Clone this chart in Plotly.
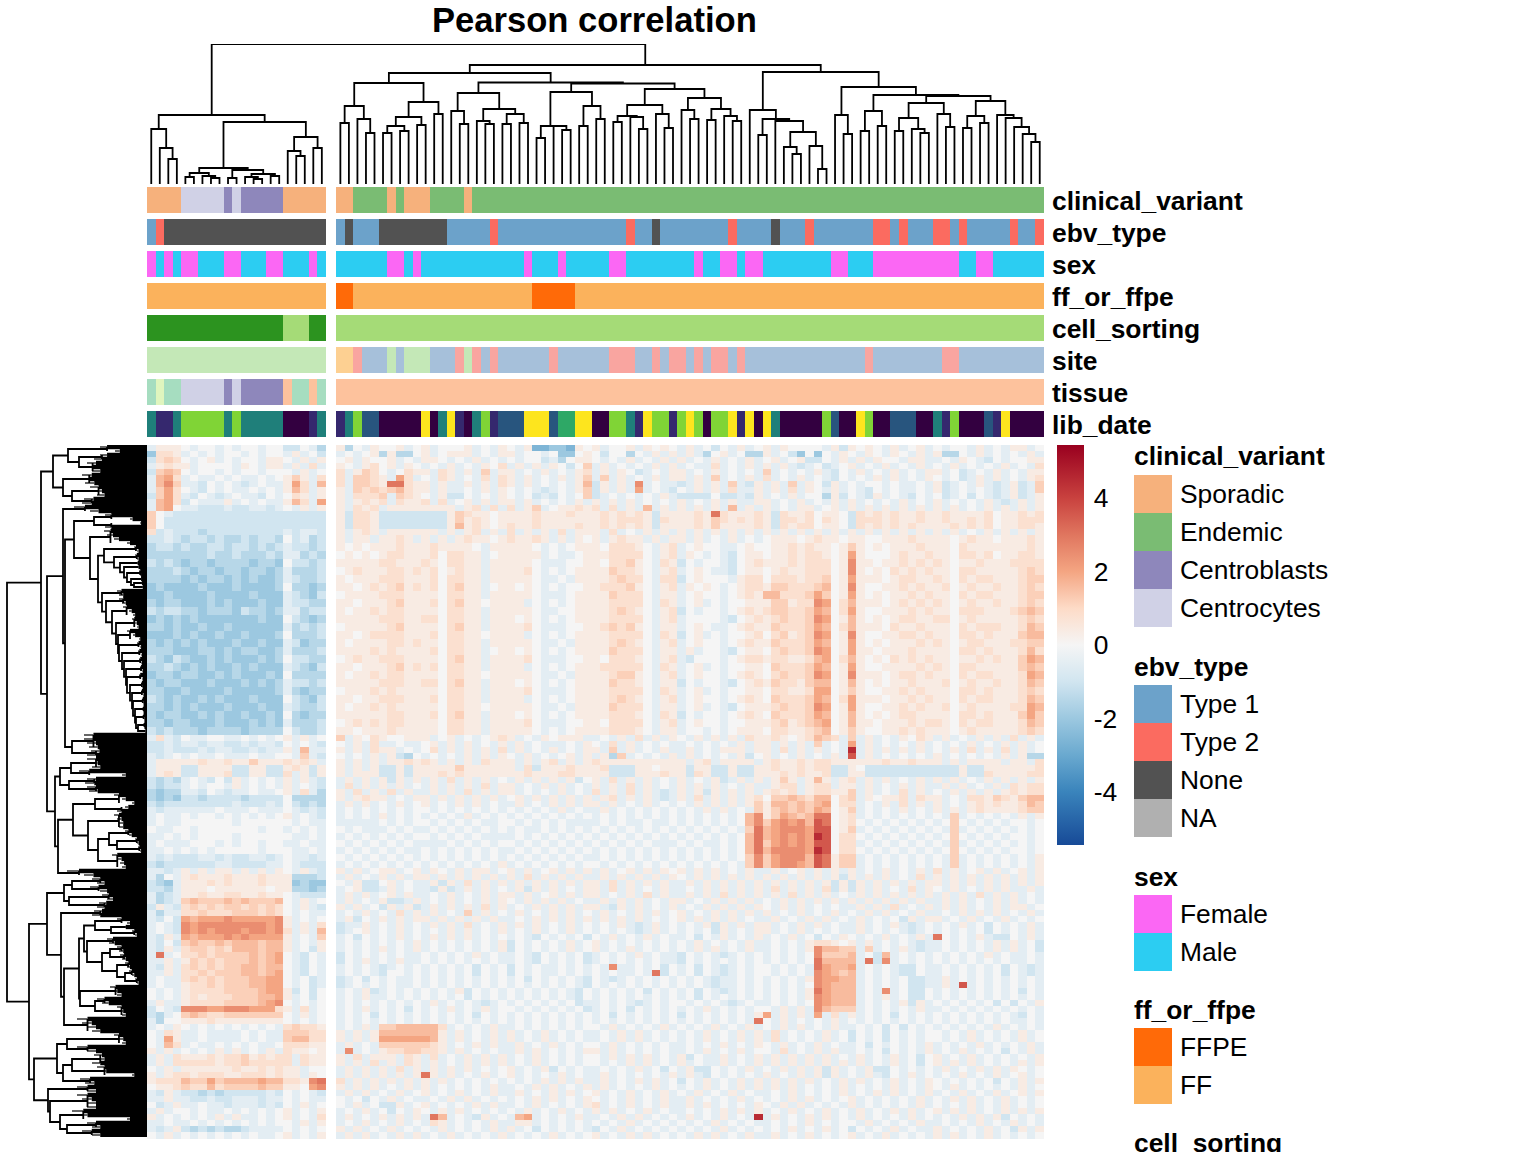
import numpy as np
import plotly.graph_objects as go

W, H = 1536, 1152
FONT = "Liberation Sans"

# ---------------- annotation tracks: (category, run of samples) ----------------
clinical_left = [("Sporadic",4),("Centrocytes",5),("Centroblasts",1),("Centrocytes",1),("Centroblasts",5),("Sporadic",5)]
clinical_right = [("Sporadic",2),("Endemic",4),("Sporadic",1),("Endemic",1),("Sporadic",3),("Endemic",4),("Sporadic",1),("Endemic",67)]
ebv_left = [("Type 1",1),("Type 2",1),("None",19)]
ebv_right = [("Type 1",1),("None",1),("Type 1",3),("None",8),("Type 1",5),("Type 2",1),("Type 1",15),("Type 2",1),("Type 1",2),("None",1),
             ("Type 1",8),("Type 2",1),("Type 1",4),("None",1),("Type 1",3),("Type 2",1),("Type 1",7),("Type 2",2),("Type 1",1),("Type 2",1),
             ("Type 1",3),("Type 2",2),("Type 1",1),("Type 2",1),("Type 1",5),("Type 2",1),("Type 1",2),("Type 2",1)]
sex_left = [("Female",1),("Male",1),("Female",1),("Male",1),("Female",2),("Male",3),("Female",2),("Male",3),("Female",2),("Male",3),("Female",1),("Male",1)]
sex_right = [("Male",6),("Female",2),("Male",1),("Female",1),("Male",12),("Female",1),("Male",3),("Female",1),("Male",5),("Female",2),("Male",8),
             ("Female",1),("Male",2),("Female",2),("Male",1),("Female",2),("Male",8),("Female",2),("Male",3),("Female",10),("Male",2),("Female",2),("Male",6)]
ff_left = [("FF",21)]
ff_right = [("FFPE",2),("FF",21),("FFPE",5),("FF",55)]
sorting_left = [("sorted",16),("unsorted",3),("sorted",2)]
sorting_right = [("unsorted",83)]
site_left = [("site_green",21)]
site_right = [("site_orange",2),("site_red",1),("site_blue",3),("site_green",1),("site_blue",1),("site_green",3),("site_blue",3),("site_red",1),
              ("site_green",1),("site_red",1),("site_blue",1),("site_red",1),("site_blue",6),("site_red",1),("site_blue",6),("site_red",3),
              ("site_blue",2),("site_red",1),("site_blue",1),("site_red",2),("site_blue",1),("site_red",1),("site_blue",1),("site_red",2),
              ("site_blue",1),("site_red",1),("site_blue",14),("site_red",1),("site_blue",8),("site_red",2),("site_blue",10)]
tissue_left = [("tissue_mint",1),("tissue_pale",1),("tissue_mint",2),("Centrocytes",5),("Centroblasts",1),("Centrocytes",1),("Centroblasts",5),
               ("tissue_peach",1),("tissue_mint",2),("tissue_peach",1),("tissue_mint",1)]
tissue_right = [("tissue_peach",83)]
lib_left = [("teal",1),("purple",2),("teal",1),("lime",5),("teal",1),("lime",1),("teal",5),("dark",3),("purple",1),("teal",1)]
lib_right = [("purple",1),("teal",1),("lime",1),("navy",2),("dark",5),("yellow",1),("dark",1),("teal",1),("yellow",1),("purple",1),("dark",1),
             ("teal",1),("lime",1),("purple",1),("navy",3),("yellow",3),("navy",1),("green",2),("yellow",2),("dark",2),("lime",2),("teal",1),
             ("purple",1),("yellow",1),("lime",2),("purple",1),("lime",1),("yellow",1),("lime",1),("dark",1),("lime",2),("yellow",1),("purple",1),
             ("yellow",1),("dark",1),("yellow",1),("teal",1),("dark",5),("lime",1),("navy",1),("dark",2),("yellow",1),("lime",1),("dark",2),
             ("navy",3),("dark",2),("teal",1),("purple",1),("lime",1),("dark",3),("navy",1),("purple",1),("yellow",1),("dark",4)]
track_names = ["clinical_variant","ebv_type","sex","ff_or_ffpe","cell_sorting","site","tissue","lib_date"]
tracks_left = [clinical_left,ebv_left,sex_left,ff_left,sorting_left,site_left,tissue_left,lib_left]
tracks_right = [clinical_right,ebv_right,sex_right,ff_right,sorting_right,site_right,tissue_right,lib_right]
category_colors = {
 "Sporadic":"#F6B17C","Endemic":"#7ABC73","Centroblasts":"#8E87BB","Centrocytes":"#D0D1E6",
 "Type 1":"#6CA2CA","Type 2":"#FB6B60","None":"#525252","NA":"#B0B0B0",
 "Female":"#FB67F4","Male":"#2CCDF2","FFPE":"#FF6A08","FF":"#FBB25C",
 "sorted":"#2C931F","unsorted":"#A5DB77",
 "site_green":"#C4E8B7","site_orange":"#FDD092","site_red":"#F9A5A0","site_blue":"#A6C0DA",
 "tissue_mint":"#A6DDC0","tissue_pale":"#E0F5BE","tissue_peach":"#FDC29D",
 "dark":"#330040","purple":"#35286E","navy":"#28557E","teal":"#1F7F7A","green":"#2EA866","lime":"#80D436","yellow":"#FDE51E"}

# ---------------- legends ----------------
legend_clinical = ["Sporadic","Endemic","Centroblasts","Centrocytes"]
legend_ebv = ["Type 1","Type 2","None","NA"]
legend_sex = ["Female","Male"]
legend_ff = ["FFPE","FF"]

# ---------------- heat values, one coded letter per sample ----------------
# a..f = -0.5 -1 -1.5 -2 -2.6 -3.5 ; 0..9 = 0 .4 .8 1.2 1.6 2 2.5 3 3.6 4.5
level_codes = {"a":-0.5,"b":-1.0,"c":-1.5,"d":-2.0,"e":-2.6,"f":-3.5,"0":0,"1":.4,"2":.8,"3":1.2,"4":1.6,"5":2.0,"6":2.5,"7":3.0,"8":3.6,"9":4.5}
rows_top = [
"a111 0a00a0a00a00 bb0ac 1c0a1001a0 1a0001a0a1 0a1eedde10 1a001a1010 a1a0b0a1a0 1a10000a1b 1010a1a01a 0a00a1a0a1 1a0",
"d221 a0a0a00a0a00 a1a0b a0a01c1cc0 1a0111a0a1 1a00a0dd01 0b00c0a1a1 a1ac01a0cc 1a0bd0d0a1 0a10a10a1a 1cc0a1a0a0 a1a",
"b232 0a01a0a00a11 0a1a1 01a1001a0a 110a0a1a0a 0a00bac011 0a0a1a0a1a 1a0a1a0a1a 01a01bb0a1 a1a100a11a a0a10ab0a0 011",
"a121 1a0000a10a11 a1a2a 10a1201a10 a0a1a0a102 a1a1a10b03 a1a0a0a1a1 a0aa2a0a1a 1a1aba0ba0 1a0a1a0a1a 0a1a0a0a1a 0a2",
"b343 0a00a0a00a00 0a1a0 2a1320a021 1a21a1a3a1 1a0a1a0a12 a1a10ba0a1 1a0a1a0a0a 3a0a0a1ab0 a1a0a1a0a1 1a0ba0a1a0 a11",
"a452 a0aa0a0aa0a0 131a2 2a3321a52a 0a21a0a2a2 1a1a0a1a13 a3a1a0a1a1 1a1a3a0a1a 2a0a1a0ab0 a0a1a1a0a1 0a0ba1a1a0 a12",
"a463 aab0a0aba0aa 152a4 2a33217721 1a1aa1a1a2 1a1a0a0a14 b1a1a6a0aa ba1a1a3ab1 a1a3a10b1a 0a00a0aa0a 1ba0a1aba1 ba3",
"a352 0ab0a0aa0a0a 142a1 1a32323421 1a1aa0a1a1 0a0aba0a13 b1a1a5a0ab 0a1a1a2aa1 a1a2a10a1a 0ab0a0aa0a 1ba0a0aba1 ba3",
"b352 ab0aba0aab0a 021a1 1a2223a321 0a1bb0a0a1 0a0bab0a03 ba0a0a0a1a bbbb0bbab1 a0a1a00c1b 0ab1a0ab0a 0ba0b0aba1 ba1",
"a452 b0aaa1a0a0aa 142a5 1a1212a211 2a2a01a1a1 1a1a0a0a1a 1a1a1a0a0a 1a0a1a1aa1 1a0a1a0a1a 1a0a0a1a0a 1a0a0a1aba 1a1",
"a450 aabbbabbaaba 0a1a1 1a212a1111 1111a12a2a 2a13a01121 2a2a1a4a1a 1a1a1a4a1a 1a0a11a01a 1a1a1a1a1a 1a1a0a1a1a 1a1",
"30ab bbbbbbbbbbbb bbbbb 1b221bbbbb bbb1321101 1112111211 1212121b11 1121721112 1b21120110 b212121121 1211112011 212",
"30bb bbbbbbbbbbbb bbbbb 1b221bbbbb bbb1312101 1112111111 1212221b21 1121321212 1b22120210 b222121121 1211212011 222",
"30bb bbbbbbbbbbbb bbbbb 1b221bbbbb bbb1412101 2112111121 1212121b11 1121311112 1b21220110 b212121211 1121212011 221",
"2bab bbcbbbbbbbbb abaab 1a121a1111 11a1a12a1a 2a1a1a2a11 1a2a0a1a1a 1a1a1a1a1a 1a1a1a1a1a 1a1a1a1a1a 1a1a0a1a1a 1a1",
]
rows_blue = [
"bbab cbbcbccbcbbc 0bacb 1a11a1121a 1a1a121101 21121a1a10 1a1211a1a1 1a1a0a1a0a 0111012110 1100111211 1101211011 121",
"cbbc bccbbcbbcbcb abbcb 1010111211 1211110a11 1110a0a011 1022210a12 a0100aa010 0112121101 3101011121 1102111111 121",
"cccc cccbccbcccbc aacbc 0101012211 1202211a01 1111a0aa01 1122220a12 a10a0ab011 0112122101 5100012112 1102212011 221",
"bcbc dccdccccdccd 0bbcb 1111122111 2102211a11 1110aaa001 1022310a21 b0a00ab012 1112122201 6110112121 2101121112 222",
"cccb cdccdccdccdc acccb 0121112212 1201211a11 1120a0a011 1132210a12 a010aab011 0121122201 6101021212 1102211111 232",
"cccc dcdccdcdcddc abccb 1011122211 1202211a11 1110aa0a11 1123220a22 b01000a122 0222122301 5111012211 2102122111 233",
"dcdd ddcdddcddddc 0ccdc 1101212312 1202311a01 1010a0a001 1222310a12 a1010a0122 1332223401 6100112121 1201211211 232",
"ddcd dddcddddcddd abcdb 0111122211 1102211a11 1110aaa011 1132220a11 a0100a0121 4422235301 5101011212 1102122111 233",
"cdcc dddcdcdddcdd abbcc 1101112311 1202311011 11a0a0a011 1122220a21 a01a0a0011 1331226502 4111012121 2101211211 232",
"bcbb ccdcccdbccdc aacbb 1011212211 1102211a11 1110aa0011 1123210a12 b0a00a0121 2332235402 5100111212 1102221112 343",
"dcdc dcdddddddcdd 0bcdc 1111122211 2202211a11 1010a0a011 1122220a12 a0000ab012 1232236501 4101012211 2201211111 232",
"ccdc ddcddcdddddd acbcb 0111112311 1102311a11 1120aaa001 1232310a11 a010aa0121 1322235402 4111021121 1102122211 243",
"dddc dcddcddcdddc 0cccb 1101222211 1202211011 11a0a0a011 1122220a21 b01a0a0012 0231236501 6100112212 1102212111 344",
"cdcd cdcdddcddcdd abdcc 1011112212 1102211a11 1110aa0a11 1123210a12 a0100a0121 1322235401 5101011121 2101221112 233",
"cccd ddccdcdccddc acccb 1111212111 1202211a01 1010a0a011 1132220a11 a1a00ab011 0232236501 5110111211 1102212111 242",
"bcdb cddcdcdddcdc 0bbcc 0121122211 1102311a11 1120aaa001 1022210a12 ab000a0122 1221124502 4101021212 1101121211 354",
"ccbc dcdcddcdcddd abcdb 1101112312 1202211a11 11a0a0a011 1222220a21 a01a0a0011 0322235401 5100111121 2102211111 343",
"dccd ccddcdcdddcd 0cccc 1011212211 1102211011 1110aa0a11 1123310a12 a0100a0121 0232236501 6111012212 1102122111 254",
"cdcc dddcdddcdcdc abbcb 1111122211 2202311a11 1010a0a011 1132210a11 b0a00ab012 1322134401 4101011211 1201211211 243",
"ccdd cddddcdddddc acdcc 0111212111 1102211a11 1120aaa011 1122220a21 a01a0a0011 0221125501 3100112121 1102212111 232",
"bcdc ddcdcdddcddd 0bcdb 1101122211 1202211a11 11a0a0a011 1123210a12 a0100a0121 0322235402 5111011212 1102122111 243",
"ccdc dcdddcdddcdd abccb 1011212111 1102211011 1110aa0a11 1132220a11 a01a0ab011 1232236501 5100112121 1201211112 254",
"cdcc ddcdcddcddcd 0cdcc 1111112211 1202311a11 1010a0a011 1122210a21 b0a00a0121 0322235401 4101012211 1102212111 353",
"ccdc cdddcdddcdcd acccb 0121212211 1102211a11 1120aaa001 1022220a12 a0100a0011 1231234501 4110111212 2102122111 243",
"bcbc ccdccccdcccc 0bccb 1101112111 1102211a11 1110a0a011 1122210a11 a00a0a0111 0221123401 3100112121 1101211111 232",
]
rows_mid = [
"a2ab 0aa00aa0a0a0 1a1a0 3a10210011 1a01a0a012 1a0a10111a a0a1a2a1a1 0a1a1a1a21 121012432a 3a1a0a1021 a1a0a1a1a2 a1a",
"bbab aabaabbabaab 0a0ab 0a1a2aa0aa 01a1a1a0a1 a1a0aaa0a1 0a2a1a0a0a a0a0a0a1a1 1a1a1a3a0a 5a1a0a0a1a 0a0a1a0a1a 1a0",
"bbab bbabaabbabaa 1a4aa 1a1a211a0a 02a1a1a1a2 a1a0a1a0a1 1a3a1a0a1a a1a0a111a1 1a2a1a1a0a 9a1a1a1a1a 0a1a2a1a2a 1a0",
"aba0 a0aa0aaa0aa0 0a3ab 0a0a1a1bc0 a0a0a1a1a1 0a1a0a01a1 a1c3a0a0a1 a1a0a0a1b0 1a0a1a0a1a 8a1a0a0a0a 1a0a0a0a1a 1cc",
"a111 112112113111 2121a 1a1a1a1121 21a1a1a211 1a1a12a1a1 2111111111 1a12a1111a 1211212211 1111211211 1a1a1111a1 1a2",
"a111 bb1111bb11bb 121b1 1a1a1bb1b1 1111311111 1a2b111211 12bbb11011 1b11bb1bb1 12112122bb 10bbbbbbbb bbb1bb1111 112",
"a121 bb1112bb11bb 2a1b1 1a111bb1b1 1121211111 1121112211 11bbb11121 1b21bb1bb1 11212112bb 11bbbbbbbb bbb1bb2111 122",
"bcbc a0ab0b1a0a0a 1a1ab a1a1a1b1a1 a1a2a1a1a0 a1a1a1a1b0 1a2a1a1a0a 1a0a1ba1a1 a131a141a1 2a1a1a0a1a 1a1a0a1a1a 1a1",
"bcbb a0a00a1a0a0a 1a0ab a2a1a1a1a0 a1a1a1a2a1 1a0a1a1a0a 1a1a2a1a0a 1a1a1a0a1a a122a122a1 1a1a0a1a1a a1a1a0a1a2 122",
"cdcc aab0abaa0aa0 1a2ac 1a2a1a2a1a a1a1a2a1a1 1a0a0a1a0a 2a1a2a1aba 1a1b1a1a1a 1212a12211 3a1a0a2a1a 0a1a1a1a12 122",
"cdcd bbcbbbbcbbbb 0cccc 1a1211a0a1 1a1a1a1a1a 01a1a1a1a1 a12a1a1aba 1a2a1a1a12 0334324402 3a10112a21 1a0a221321 344",
"bcbb bbbbbbabbbab 0bcbc a1a1a0a1a0 1a0a1a1a0a a1a0a1a1a1 1a1a0a1a0a 0a1a1a1a13 1443434502 2a0a1a2a1a 1a0a121211 243",
"abaa aaaa0aaa0aaa 0abab a0a0a0a0a0 0a0a0a0a0a 0a0a0a1a0a a1a0a0a0a0 a0a1a1a0a3 1343435401 3a0a0a1a0a 1a1a121111 233",
"a0aa 0a00a0a0a0a0 1a0ab a0a0a1a0a0 a0a0a1a0a0 a0a0a0a0a0 a0a0a0a0a0 a0a0a0a046 1354347701 2a0a0a0a0a 0a3a0a0a0a 1a1",
]
rows_block = [
"a0aa 000000a00000 0a0aa aaaaa0a0a0 0a0a0a0aa0 0a0a0a0aaa a0a0aa0aa0 a0a0a0a046 3565648701 20a0a0a0a0 a030a0a0a0 0a0",
"0aa0 0a0000000a00 a0a0a 0a0aaa0a0a a0a0a0a0a0 a0aa0a0a0a 0a0a0a0a0a 0a0a0a0a37 4566658801 3a0a0a0a0a 0a3a0a0a0a 0a0",
"aa0a 0a0000a00000 0aa0a a0a0a0a0a0 0a0a0a0aaa a0a0a0a0a0 a0a0a0a0a0 a0a0a0a047 4565659802 20a0a0a0a0 a030a0a0a0 0a0",
"a0aa a000a0a00a00 aa0aa 0a0a0a0a0a aaa0a0a0a0 0a0a0a0a0a 0a0a0a0aaa 0a0aa0a047 3565658802 2a0a0a0a0a 0a3a0a0a0a 0a0",
"aa0a 0a0a00000a00 0aa0a a0a0a0a0aa 0a0a0a0a0a a0a0a0a0a0 a0a0a0a0a0 a0a0a0a047 4666659802 20a0a0a0a0 a030a0a0a0 0a0",
"abab bbaababbaaba 0aaba 0a0a0a0a0a 0a0a0a0a0a 0a0a0a0a0a a0a0a0a0a0 a0a0a0a036 3566648713 3a0a0a0a0a 0a3a0a0a0a 0a1",
"bcbb bbbbaabbbbaa 0abbb a0a0a0a0a0 a0a0a0a0a1 a0a0a0a0a0 0a0a0a0a0a 0a0a0a0a36 3566548713 3a0a0a0a0a 0a3a0a0a0a 0a1",
]
rows_low = [
"aaba 1a1a11a1a1a1 0a1ab 1a1a011a01 a10a1a11a0 1a1a01a1a1 a1a01a1a10 1a1a1a0a1a a1a01a1a1a 1a0a1a0a1a 2a1a01a1a0 1a1",
"ac0a 121112111211 1cccb a1a0a1a1a1 1a1a1a1a1a 1a2a1a1a1a a1a1a1a1a1 0a1a1a1a1a 1a1a1a1a1b 1a1a1a0a2a 1a1a1a1a1a 1a1",
"bcda 111212111211 1dcdd 0a1bb01a0a a1b1a2a1a1 a1a1a1a1a1 1a2a1a1a1a a1a1a1a1a1 a1a1a1a1b1 b1a1a1a1a1 1a1a1a1a1a 1a1",
"bbca 111011111101 1ccdc a01bba1a0a ab1ba1a1a0 a1b1a1a0a1 1a2a1a0a1a a0a1a1a1a1 a2a1a1a2b1 b1a1a0a2a1 0a1a0a1a1a a1a",
"acba 112112211211 0abbb a1a1a01a1a a0a1a0a1a1 1a1a01a1a1 1a0a1a2a1a a1a1a2a1a1 a1a2a1a1a0 a1a1a1a1a1 a1a1a2a1a1 a0a",
"acba 343334343334 0a1a0 a1a0a1bba1 a0a1a0a1a1 0a1a1a1a0a a1a1a1a0a1 1a0a1a1a1a 0a1a1a1a1a 1a1a1a1a1a a1a1a0a1a1 a0a",
"b1ab 232323323232 0a1ab 1a1a0b1a1b a1a1a1a2a1 a0a1a1a1a1 1ab1a1a0a1 a0a1a1a1a1 0a1a1a0a0a a1a1a2a0a1 a1a1a0a1a1 1a0",
"acaa 223222333232 0a0aa a0a1a0a2a1 a1a0a3a1a0 a1a0a1a1a0 a1a0a1a1a0 1a0a1a1a1a 1a0a1a0a1a 0a1a1a0a1a a0a1a1a1a0 a1a",
"ab0b 545556555556 1a0a0 a1b0a1a1a1 1a1a1a1a1a a0a1a1a1a1 a1a1a1a0a0 1a1a1a1a0a a1a0a1a1a0 a1a0a0b1a1 1a0a1a0a1a 0a0",
"a0ab 656666666656 1a1a2 baa1a0a1a0 a1a1a2a0a1 a1a1a0a1a0 a0a1aba1a0 a0a1b1a1a1 1a0a1a1a0a a1a0a1aba0 a0a1a0b0a0 a1a",
"a0ab 656566656656 2a1a4 ba01a0a1a0 a0a1a1a0a1 a0a1a0a1a0 a0a0aba1a0 a0a0b1a0a1 1a0a1a0a0a a1a0a0aba0 a0a0a0b0a0 a1a",
"ab1a 545556565555 1a0a3 a0b0a0a1a0 a1a1a1a0a0 a0ab0a0a0b 0a1a0a1a0a a0b0a1a0a1 a0a1a0b0a1 0a0a1a0a1a 70a0a1abb0 a1a",
"ab0b 343343444344 1a0a1 a0a0a0a0a1 a0a0a0a0a1 b0a0a0a1a0 1a0a0a0a0a 0a1a0a0a1a a0a0a12210 1a1a0a0aba a0a0a0a1a1 a0b",
"ab1a 233232444344 1a0b1 a0a0a1a0a1 a0a0a0a0a1 b0a0a0a1a0 1a0a1a0a0a 0a1a1a0a1a a0a0a16443 3a3a0a1aba a0a0a0a1a1 a0b",
"a7a0 223233334345 0ab0a b0a0a0a0aa 0a0a0a1a0a a0ab0a0a0b a0a0a1a0aa b0a0aba0a0 a0a0a06333 4a0b4a0a0a 0a0a0a1a0a a0a",
"aa1a 132323334345 0ab0a b0a1a0a1aa 0a0a0a0a0a a0ab0a0a0b a0a0a0a0aa b0a0a0a0a0 a0a0a07444 4a7b6a0a0a 0a0a0a0a0a a0a",
"ab1a 232323344344 0ab0a a0a0aba0a0 a0a0a0b0a0 b0a0aa0a0a 0a6aa0a0b0 a0b0aba0a0 0a0a0a7544 5a0a0abb0a a0a0a0a0b0 aba",
"aa1a 223233344345 0ab0a a0a0ab00a0 a0a0a0b0a0 b0a0aa0a0a 0a0aa0a7b0 a0b0aba0a0 0a0a0a6543 4a0a0abb0a a0a0a0a0b0 aba",
"a0aa 232323334455 0a0ba ba0b0a0aa0 a0a0a0a0a0 a0b0a0a0ab 0aba0a0a0a 0a0abaa0a0 a0a0a16554 4a0a0a0bba a1a0a0a0a0 a0a",
"a0aa 122323334455 0a0ba ba0a0a0aa0 a0a0a0a0a0 a0a0a0a0ab 0a0a0a0a0a 0a0abaa0a0 a0a0a06544 4a0a0a0bba a1a8a0a0a0 a0a",
"0a0a 122223333455 1b0b0 a0a1ba0a0a 0a0a1b0a0a 0a0a0a0ab0 a0a0a0b0a0 a0b0aba0a0 a0a0a17544 4a0a6a0bb0 a0a0a0a0a0 b0a",
"0a0a 121222333445 1a0b0 a0a1aa0a0a 0a0a0b0a0a 0a0a0a0ab0 a0a0a0a0a0 a0b0a0a0a0 a0a0a16544 4a0a1a0bb0 a0a0a0a0a0 a0a",
"a1aa 122223333456 0a0a0 a0a0a0a0a0 a1a0a0aba0 a0a0a0a0ba a0a0aba0a0 0a0a0aba0a a0a0a06544 4a0a0a1b1a 0a0a0a0b0b 0a1",
"b0ab 666556665552 1a2a0 a0a1a0a0b0 a0a1a0a1a0 0a0a0a0a0b a0a0b0a0a0 a0a1a0a0a0 0a1a1a6433 3a0a0a0a1a a0a0a0a0a0 a0a",
"bca0 343223333333 0a1a0 a0a0b0a0a0 a0a0a0b0a0 a0a0a0a0a0 a0b0a0a0a0 b0a0a0a0a1 5a1a1a5a2a 1a0a0b0a0a 0a0a0a0a0a b0a",
"ac00 111211111111 0a0a0 a0a0a0a0a0 a0a0a0a0a0 a0a0a0a0a0 a0a0a0a0a0 a0a0a0a0a7 0a1a0a0a1a 0a0a0a0a0a 0a0a0a0a0a a0a",
"a0a1 0a0a0a0a0a0a 23221 a0a1a33444 442a0a0a1a a0a0a0a0a0 0a1a0a0a1a 0a0a1a0a1a 0a1a1a0a1a a0a0b0b0a0 a0a0a0a1a0 a0a",
"0a21 aa0aaaa0a0aa 33322 1a1a144444 441a1a0a1a 1a0a1a0a0a a0a1a1a0a0 a0a1a0a1a1 a2a0a0a1a0 b0a0b0a0a0 0a0a1a0a0a 1a0",
"0a51 aa0aaaa0a0aa 34422 1a1a155555 541a1a0a1a 1a0a1a0a0a a0a1a1a0a0 a0a1a0a1a1 a2a0a0a1a0 b0a0b0a0a0 0a0a1a0a0a 1a0",
"0a42 a0aa0a0a0aa0 22211 a1a0a33333 321a0a1a1a a1a0a1a0a0 0a1a0a0a0a a0a0a1a0a1 0a1a0a1a0a a0b0a0a0a1 a0a0a1a0a0 a1a",
"1a1a 0a0a1a1a0a1a 21101 a6a0a12233 221a1a0a0a a1a1a0a0a1 1a1a0a0a0a a0a1a0a1a0 0a2a0a1a1a a0a0b0a0a1 a0a1a0a0b0 a1a",
"a1a2 111212231212 2a211 1a2a111a21 a2a0a1a1a1 a0a1a0a0a0 0a1a1a1a0a 1b0aa1a0a1 a1a1a1a1a0 a1a0a1a0b0 1a0a1a0a0a 0a1",
"a1a2 222212232222 2a211 1a1a2a1a21 a1a0a1a1a1 a0a1a0a0a0 0a0a1a1a0a 1a0aa1a0a1 a1a1a1a1a1 a1a0a1a0b0 1a1a1a0a0a 1a1",
"0a1a 111111211212 11a00 a1a1a1a2a1 a1a1a1a0a0 1a0a1b0a0a a0a0a1a0b0 a1bb0a0a1a 0a1a1a1b1a 0a1bb0a0a0 a1a0a1a1a1 0a0",
"1a12 212221122212 11a10 a1a1a1a1a1 71a1a0a1a0 1a0a0a1a0a a1a0a0a0a1 a1ab0a0a0a 1a0a1a1b1a 0a1ab0a1a0 a0a1a0a1a0 1a0",
"1222 433534444544 22167 2a1a1a1a1a 1a1a0a0a0a 0a0a1a1a1a a1a0a1a1a0 b0a1a0a1a1 a1a1a1a0a1 a1a0a1a0a1 0a0a0a0b0a 1a1",
"0112 322423333433 11056 1a1a1a0a1a 1a0a0a0a1a a0a1a1a0a1 a1a0a0a1a0 a0a1a0a1a1 a1a1a0a0a1 a0a0a1a0a1 0a1a0a0a0a 1a0",
"ab1a bbcbcbbbbbab 0a0ab a1a1a0a1a0 1a0a1a0a1a a1a0a1a1a0 1a0a1a0a1a 0a1a0a1a0a a0a1a0a0a1 a0a1a1a0a1 a0a1a0a1a0 1a1",
"aa1a abbabbaaabaa 0a0aa 0a0b0a1a0a a0a1a1a0a0 a0a1a1a0a1 0a0a1a0a1a a1a0a0a1a0 a0a1a1a0a0 1a0a0a0a1a 0a1a1a0a1a 0a0",
"0ba1 aa0aabaaabab 0a1a0 0a1a0bb1a0 1a0a0a1a1a a0a1a0a0a1 2a0a1a0a1a a1a1a0a0a1 0a1a1a0a0a 1a0a0a0a1a 0a0a1a0a1a 0a0",
"a1a0 0a0aa0a0a0a0 1a0a1 a0a1a0b0a1 0a1a1a0a0a 0a1a0a1a0a 1a1a0a1a0a a0a0a1a1a1 a0a1a0a1a0 a1a0a1a1a0 1a1a1a0a1a 1a1",
"1a0a 0a0a1a1aa0a0 1a0a2 a1a0a1a1a1 a74a0ab1a0 a45a0a0a1a a0a1a1a0a0 a1a0a1a0a9 a1a0a1a1a0 a1a0a0a1a0 a0a1a1a1b0 a0a",
"aa0a a0a0a0a0a0a0 0a1a1 a0a1a0a1a0 a21a0a0a1a a11a0a0a0a 0a0a1a0a0a 0a0a1a0a0a a0a0a1a0a0 0a1a0a0a1a a0a0a1a0a1 a0a",
"aba1 bcbcbccbaaaa 0a0a0 1a1a0a1a0a 0a1a0a0a1a 1a0b0a0a0a b0a1a0a0a0 a0a0a1a0a0 a0a1a0a1a0 b0a0a1a0aa 1a0a0a1a0b 1a1",
"0a1a 0a0a0a0a0aa0 1a0a1 a1a1a0a1a1 a0a1a0a0a1 a0a0a1a0a0 1a0a1a1a0a 0a1a1a0a1a a1a0a1a0a0 1a0a1a0a0a 1a1a0a1a0a 0a0",
]
heat_rows = rows_top + rows_blue + rows_mid + rows_block + rows_low
row_heights = [6]*len(rows_top) + [8]*len(rows_blue) + [6]*len(rows_mid) + [7]*len(rows_block) + [6]*(len(rows_low)-1) + [7]

# ---------------- column dendrogram: (merge height, left, right), 0 = sample ----------------
_ = 0
tree_cells = (16,(11,(7,_,_),(8,_,(6,_,_))),(14,(6,_,_),(10,(7,_,(5,_,_)),(8,_,_))))
tree_left = (69,(55,_,(36,_,(25,_,_))),(62,tree_cells,(47,(33,_,(28,_,_)),(36,_,_))))
tree_a1 = (101,(78,(61,_,_),(65,_,(51,_,_))),(82,(67,(58,(51,_,_),(53,_,_)),(59,_,_)),(70,_,_)))
tree_a2a = (91,(73,_,(60,_,_)),(75,(63,_,(60,_,_)),(70,(60,_,_),(61,_,_))))
tree_a2b1 = (92,(58,(46,_,_),(58,_,(54,_,_))),(78,(58,_,_),(65,_,_)))
tree_a2b2 = (95,(79,(68,(62,_,_),(67,_,(55,_,_))),(70,_,(56,_,_))),(86,(74,_,(65,_,_)),(75,(64,_,_),(68,_,(63,_,_)))))
tree_a = (111,tree_a1,(101.5,tree_a2a,(100.5,tree_a2b1,tree_a2b2)))
tree_b1 = (74,_,(65,(49,_,_),(63,_,(52,(37,_,(30,_,_)),(38,_,(15,_,_))))))
tree_b2a = (81,(66,(53,_,_),(55,_,(51,_,_))),(70,_,(57,_,_)))
tree_b2b = (83,(68,(56,_,_),(61,_,_)),(69,_,(66,_,(57,_,(50,_,(42,_,_))))))
tree_b2 = (97,(69,_,(50,_,_)),(89,(73,(53,_,_),(58,_,_)),(88,tree_b2a,tree_b2b)))
tree_right = (119,tree_a,(112,tree_b1,tree_b2))
tree_top = (140,tree_left,tree_right)

# ---------------- row dendrogram: lists are bunches of leaves, one reach per 4 px ----------------
T1a = (79,[47,32],(68,[47,53],[60,64,55]))
T1b = (84,[65,68,62],(75,[57,53,50],[63,65]))
T1 = (94,T1a,T1b)
X1 = (53,[42,17],[7,42])
X2a = [43,40,33,20]
X2b1 = (43,[13,10],(33,[12,10],(27,[11],(23,[10],(20,[8,7],(16,[7],(13,[6],[5])))))))
X2b2 = (45,[30,28],(41,[28,25],(35,[24,18,14],(31,[15,12,10],(29,[20,14,8],(28,[10,7],(25,[9,6],(23,[8,6],(21,[7,5],(20,[8,5],
       (17,[6,5],(15,[6,4],(14,[5,4],(12,[4,4],(11,[4,3],(9,[3,3],[2]))))))))))))))))
X2 = (57,X2a,(49,X2b1,X2b2))
T2a = (84,[73,57],(82,(73,X1,X2),(75,[63,63,60,58],[56,60])))
TT = (87,(76,[60,58,55],[68,25]),(78,[60,62],[60,58]))
BB = (89,(74,(52,[33,25,15],[22,30]),(59,[33,30,28,28],(49,(38,[22,18],(30,[12,10],[9,7])),[35,30,27,25]))),[80,63])
T2 = (100,T2a,(92,TT,BB))
B1a = (83,(75,[55,50],[57,47]),(78,[45,40],[48,50]))
Z1 = (63,(52,[30,20],(36,[25],[15,12])),(60,[40,38],(45,(37,[30,28],[27,25]),(30,[22,20],(22,[18,15],[12,10])))))
Z2 = (67,[37,35,30],(52,[50,45],[30,28,25]))
B1 = (100,B1a,(86,[53,55],(83,(68,Z1,Z2),[70,65,60,55])))
B2a = (90,(80,[33,28,25],[70,60]),(84,(75,[53,50,55],[50,48,15]),[67,62]))
B2b = (99,[70,60],(97,[70,65,60,60],(87,[75,70,20],(80,[60,55],[65,55]))))
tree_rows = (140,(106,T1,T2),(118,B1,(113,B2a,B2b)))

# ---------------- build ----------------
def px_x(x): return x / W
def px_y(y): return 1 - y / H

def decode(r):
    s = r.replace(" ", "")
    s = (s + "0" * 104)[:104]
    return [level_codes[c] for c in s]
decoded = np.array([decode(r) for r in heat_rows], dtype=float)
y_edges = np.concatenate([[0], np.cumsum(row_heights)])
n_left, n_right = 21, 83
GAP = 10 / (179 / 21)

fig = go.Figure()
Z = 5.45
scale = [(-5.45,"#174A97"),(-4,"#3A84BC"),(-3,"#6AA9CF"),(-2,"#9CC8E0"),(-1,"#D1E5F0"),(0,"#F5F5F5"),(1,"#FDDBC7"),(2,"#F4A582"),(3,"#E0765F"),(4,"#C9423F"),(5.45,"#99001F")]
colorscale = [[(v + Z) / (2 * Z), c] for v, c in scale]

fig.add_trace(go.Heatmap(z=decoded[:, :n_left], x=np.arange(n_left + 1), y=y_edges, coloraxis="coloraxis", xaxis="x", yaxis="y", hoverinfo="skip"))
fig.add_trace(go.Heatmap(z=decoded[:, n_left:], x=np.arange(n_right + 1), y=y_edges, coloraxis="coloraxis", xaxis="x2", yaxis="y", hoverinfo="skip"))

# tracks
cats = list(category_colors)
cat_id = {c: i for i, c in enumerate(cats)}
n_cat = len(cats)
discrete = []
for i, c in enumerate(cats):
    discrete += [[i / n_cat, category_colors[c]], [(i + 1) / n_cat, category_colors[c]]]

def track_matrix(tracks):
    out = []
    for k, t in enumerate(tracks):
        row = []
        for name, run in t:
            row += [cat_id[name] + 0.5] * run
        out.append(row)
        if k < len(tracks) - 1:
            out.append([None] * len(row))
    return out

track_edges = []
for k in range(8):
    track_edges += [32 * k, 32 * k + 26]
fig.add_trace(go.Heatmap(z=track_matrix(tracks_left), x=np.arange(n_left + 1), y=track_edges, coloraxis="coloraxis2", xaxis="x3", yaxis="y2", hoverinfo="skip"))
fig.add_trace(go.Heatmap(z=track_matrix(tracks_right), x=np.arange(n_right + 1), y=track_edges, coloraxis="coloraxis2", xaxis="x4", yaxis="y2", hoverinfo="skip"))

# column dendrogram
tx, ty = [], []
leaf_counter = [0]
def walk_top(node):
    if node == 0:
        i = leaf_counter[0]
        leaf_counter[0] += 1
        return i + 0.5 + (GAP if i >= n_left else 0), 0
    h, a, b = node
    xa, ha = walk_top(a)
    xb, hb = walk_top(b)
    tx.extend([xa, xa, xb, xb, None])
    ty.extend([ha, h, h, hb, None])
    return (xa + xb) / 2, h
walk_top(tree_top)
fig.add_trace(go.Scatter(x=tx, y=ty, mode="lines", line=dict(color="black", width=1.8), xaxis="x5", yaxis="y3", hoverinfo="skip", showlegend=False, cliponaxis=False))

# row dendrogram
lx, ly, fx, fy, wx, wy = [], [], [], [], [], []
row_counter = [0]
SOLID = 0.85
def walk_rows(node):
    if isinstance(node, list):
        ys = []
        for reach in node:
            y = row_counter[0] + 0.5
            row_counter[0] += 1
            fx.extend([reach * SOLID, 0, None])
            fy.extend([y, y, None])
            wx.extend([reach, reach * SOLID, None])
            wy.extend([y, y, None])
            ys.append(y)
        top = max(node)
        if len(ys) > 1:
            lx.extend([top * SOLID, top * SOLID, None])
            ly.extend([ys[0], ys[-1], None])
        return (ys[0] + ys[-1]) / 2, top * SOLID
    h, a, b = node
    ya, ha = walk_rows(a)
    yb, hb = walk_rows(b)
    lx.extend([ha, h, h, hb, None])
    ly.extend([ya, ya, yb, yb, None])
    return (ya + yb) / 2, h
walk_rows(tree_rows)
n_rows_d = row_counter[0]
fig.add_trace(go.Scatter(x=fx, y=fy, mode="lines", line=dict(color="black", width=4.3), xaxis="x6", yaxis="y4", hoverinfo="skip", showlegend=False))
fig.add_trace(go.Scatter(x=wx, y=wy, mode="lines", line=dict(color="black", width=1.2), xaxis="x6", yaxis="y4", hoverinfo="skip", showlegend=False))
fig.add_trace(go.Scatter(x=lx, y=ly, mode="lines", line=dict(color="black", width=1.8), xaxis="x6", yaxis="y4", hoverinfo="skip", showlegend=False, cliponaxis=False))

def ann(x, y, text, size=26.4, bold=False, anchor="left"):
    fig.add_annotation(x=px_x(x), y=px_y(y), xref="paper", yref="paper", text=f"<b>{text}</b>" if bold else text,
                       showarrow=False, xanchor=anchor, yanchor="middle", borderpad=0,
                       font=dict(family=FONT, size=size, color="black"))

ann(594.5, 20.5, "Pearson correlation", size=34.6, bold=True, anchor="center")
for k, name in enumerate(track_names):
    ann(1051, 201 + 32 * k, name, bold=True)

shapes = []
def legend(title, items, y_title, y_top):
    ann(1133, y_title, title, bold=True)
    for i, it in enumerate(items):
        shapes.append(dict(type="rect", xref="paper", yref="paper", x0=px_x(1134), x1=px_x(1172),
                           y0=px_y(y_top + 38 * i), y1=px_y(y_top + 38 * (i + 1)),
                           fillcolor=category_colors[it], line_width=0))
        ann(1179, y_top + 38 * i + 19, it)
legend("clinical_variant", legend_clinical, 456, 475)
legend("ebv_type", legend_ebv, 666.5, 685)
legend("sex", legend_sex, 876.5, 895)
legend("ff_or_ffpe", legend_ff, 1009.5, 1028)
ann(1133, 1142.5, "cell_sorting", bold=True)

def dom_x(a, b): return [px_x(a), px_x(b)]
def dom_y(a, b): return [px_y(b), px_y(a)]
hidden = dict(visible=False, showgrid=False, zeroline=False, fixedrange=True)

fig.update_layout(
    width=W, height=H, margin=dict(l=0, r=0, t=0, b=0, pad=0), paper_bgcolor="white", plot_bgcolor="white",
    showlegend=False, shapes=shapes,
    coloraxis=dict(cmin=-Z, cmax=Z, colorscale=colorscale,
                   colorbar=dict(x=px_x(1057), xanchor="left", xpad=0, ypad=0, y=px_y(845), yanchor="bottom",
                                 lenmode="pixels", len=400, thicknessmode="pixels", thickness=27, outlinewidth=0,
                                 tickmode="array", tickvals=[-4, -2, 0, 2, 4], ticktext=["-4", "-2", "0", "2", "4"],
                                 ticks="outside", ticklen=5, tickcolor="rgba(0,0,0,0)",
                                 tickfont=dict(family=FONT, size=26.4, color="black"))),
    coloraxis2=dict(cmin=0, cmax=n_cat, colorscale=discrete, showscale=False),
    xaxis=dict(hidden, domain=dom_x(147, 326), range=[0, n_left], anchor="y"),
    xaxis2=dict(hidden, domain=dom_x(336, 1044), range=[0, n_right], anchor="y"),
    yaxis=dict(hidden, domain=dom_y(445, 1139), range=[y_edges[-1], 0], anchor="x"),
    xaxis3=dict(hidden, domain=dom_x(147, 326), range=[0, n_left], anchor="y2"),
    xaxis4=dict(hidden, domain=dom_x(336, 1044), range=[0, n_right], anchor="y2"),
    yaxis2=dict(hidden, domain=dom_y(187, 437), range=[250, 0], anchor="x3"),
    xaxis5=dict(hidden, domain=dom_x(147, 1044), range=[0, n_left + GAP + n_right], anchor="y3"),
    yaxis3=dict(hidden, domain=dom_y(44, 184), range=[0, 140], anchor="x5"),
    xaxis6=dict(hidden, domain=dom_x(0, 147), range=[147, 0], anchor="y4"),
    yaxis4=dict(hidden, domain=dom_y(445, 445 + 4 * n_rows_d), range=[n_rows_d, 0], anchor="x6"),
)

fig.write_html("out.html", config=dict(displayModeBar=False),
               post_script="document.body.style.margin='0';document.body.style.overflow='hidden';")
